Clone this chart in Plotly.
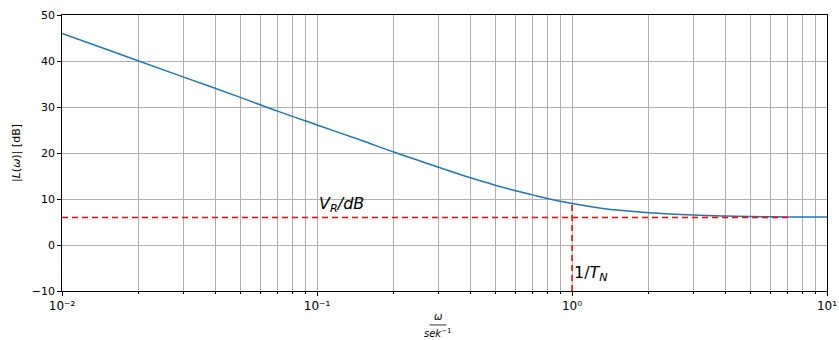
import plotly.graph_objects as go

# Values
omega = [0.01, 0.015, 0.02, 0.03, 0.05, 0.07, 0.1, 0.15, 0.2, 0.3, 0.4, 0.5,
         0.6, 0.7, 0.8, 1.0, 1.3, 1.5, 2.0, 3.0, 4.0, 5.0, 7.0, 10.0]
L_db = [46.0, 42.5, 40.0, 36.5, 32.1, 29.1, 26.1, 22.7, 20.2, 16.9, 14.6, 13.0,
        11.8, 10.9, 10.1, 9.0, 8.0, 7.6, 7.0, 6.5, 6.3, 6.2, 6.1, 6.1]
vr_db = 6.0
vr_line_x = [0.01, 7.0]
tn_omega = 1.0
tn_line_y = [-10, 9.0]

x_ticks = [0.01, 0.1, 1, 10]
x_ticktext = ["10⁻²", "10⁻¹", "10⁰", "10¹"]
y_ticks = [-10, 0, 10, 20, 30, 40, 50]
minor_x = [m * d for d in [0.01, 0.1, 1] for m in range(2, 10)]

fig = go.Figure()
fig.add_trace(go.Scatter(x=omega, y=L_db, mode="lines", line=dict(color="#1f77b4", width=1.5),
                         line_shape="spline", showlegend=False, hoverinfo="skip"))
fig.add_trace(go.Scatter(x=vr_line_x, y=[vr_db, vr_db], mode="lines",
                         line=dict(color="red", width=1.5, dash="6px,4px"), showlegend=False))
fig.add_trace(go.Scatter(x=[tn_omega, tn_omega], y=tn_line_y, mode="lines",
                         line=dict(color="red", width=1.5, dash="6px,4px"), showlegend=False))

font = dict(family="DejaVu Sans", size=11, color="black")

fig.update_layout(
    width=839, height=340,
    margin=dict(l=62, r=12, t=15, b=49),
    paper_bgcolor="white", plot_bgcolor="white",
    font=font,
    xaxis=dict(type="log", range=[-2, 1], tickvals=x_ticks, ticktext=x_ticktext,
               automargin=False, ticklabeloverflow="allow",
               ticks="outside", ticklen=4, tickcolor="black", tickwidth=0.8,
               showline=True, linecolor="black", linewidth=0.8, mirror=True,
               showgrid=True, gridcolor="#b0b0b0", gridwidth=0.8,
               minor=dict(tickvals=minor_x, ticks="outside", ticklen=2, tickcolor="black",
                          showgrid=True, gridcolor="#b0b0b0", gridwidth=0.8),
               zeroline=False, tickfont=dict(family="DejaVu Sans", size=12, color="black")),
    yaxis=dict(range=[-10, 50], tickvals=y_ticks, automargin=False,
               ticks="outside", ticklen=4, tickcolor="black", tickwidth=0.8,
               showline=True, linecolor="black", linewidth=0.8, mirror=True,
               showgrid=True, gridcolor="#b0b0b0", gridwidth=0.8,
               zeroline=False, tickfont=font,
               title=dict(text="|<i>L</i>(<i>ω</i>)| [dB]", font=dict(family="DejaVu Sans", size=11),
                          standoff=8)),
)

fig.add_annotation(x=-1, y=vr_db + 1, xref="x", yref="y", xanchor="left", yanchor="bottom",
                   text="<i>V</i><sub><i>R</i></sub><i>/dB</i>", showarrow=False,
                   font=dict(family="DejaVu Sans", size=16, color="black"), yshift=-4)
fig.add_annotation(x=0, y=-8, xref="x", yref="y", xanchor="left", yanchor="bottom",
                   text="1/<i>T</i><sub><i>N</i></sub>", showarrow=False,
                   font=dict(family="DejaVu Sans", size=16, color="black"), yshift=-4)

# x label as a fraction: ω over sek^-1
fig.add_annotation(x=0.4915, y=-0.094, xref="paper", yref="paper", yanchor="middle",
                   text="<i>ω</i>", showarrow=False, font=dict(family="DejaVu Sans", size=10))
fig.add_annotation(x=0.4915, y=-0.152, xref="paper", yref="paper", yanchor="middle",
                   text="<i>sek</i><sup>−1</sup>", showarrow=False, font=dict(family="DejaVu Sans", size=10))
fig.add_shape(type="line", xref="paper", yref="paper", x0=0.4805, x1=0.5025, y0=-0.123, y1=-0.123,
              line=dict(color="black", width=0.8))

fig.write_html("out.html", config={"displayModeBar": False},
               post_script="document.body.style.margin='0';document.body.style.overflow='hidden';")
